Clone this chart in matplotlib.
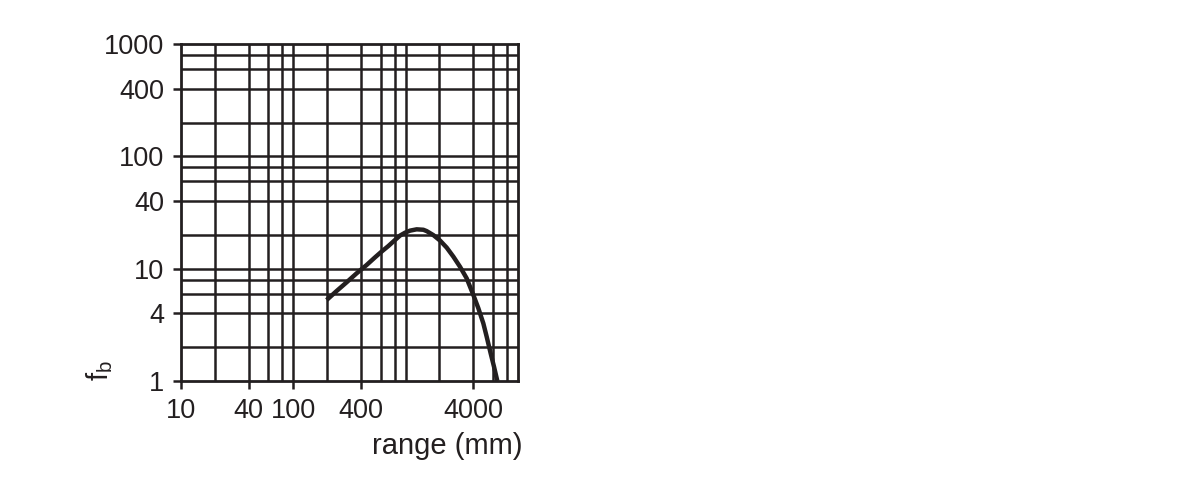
import matplotlib.pyplot as plt
from matplotlib.ticker import FixedLocator, NullFormatter, FixedFormatter

plt.rcParams['font.family'] = ['Liberation Sans', 'DejaVu Sans']
plt.rcParams['mathtext.default'] = 'regular'

ink = '#231f20'

# curve (range in mm, f_b)
range_mm = [198, 243, 298, 366, 450, 533, 611, 701, 804, 890, 987, 1093, 1253, 1437,
            1538, 1763, 2022, 2318, 2657, 3046, 3493, 4004, 4437, 4913, 5262, 5712, 6116, 6549]
fb = [5.26, 6.33, 7.56, 9.09, 10.8, 12.6, 14.2, 15.9, 18.0, 19.7, 20.9, 21.8, 22.4, 22.2,
      21.6, 19.9, 17.8, 15.4, 12.8, 10.4, 8.2, 5.83, 4.44, 3.26, 2.48, 1.76, 1.34, 1.0]

# axis ticks and grid
x_ticks = [10, 40, 100, 400, 4000]
y_ticks = [1, 4, 10, 40, 100, 400, 1000]
x_grid = [20, 40, 60, 80, 100, 200, 400, 600, 800, 1000, 2000, 4000, 6000, 8000]
y_grid = [2, 4, 6, 8, 10, 20, 40, 60, 80, 100, 200, 400, 600, 800]

fig = plt.figure(figsize=(11.99, 4.96), dpi=100)
ax = fig.add_axes([181 / 1199, 1 - 381 / 496, 337 / 1199, 337 / 496])

ax.set_xscale('log')
ax.set_yscale('log')
ax.set_xlim(10, 10000)
ax.set_ylim(1, 1000)

# keep grid lines that sit on labelled ticks
ax.xaxis.remove_overlapping_locs = False
ax.yaxis.remove_overlapping_locs = False
ax.xaxis.set_major_locator(FixedLocator(x_ticks))
ax.xaxis.set_major_formatter(FixedFormatter([str(v) for v in x_ticks]))
ax.yaxis.set_major_locator(FixedLocator(y_ticks))
ax.yaxis.set_major_formatter(FixedFormatter([str(v) for v in y_ticks]))
ax.xaxis.set_minor_locator(FixedLocator(x_grid))
ax.yaxis.set_minor_locator(FixedLocator(y_grid))
ax.xaxis.set_minor_formatter(NullFormatter())
ax.yaxis.set_minor_formatter(NullFormatter())

ax.grid(which='minor', color=ink, linewidth=1.8)
ax.tick_params(which='minor', length=0)
ax.tick_params(which='major', length=6, width=1.8, color=ink, labelcolor=ink,
               labelsize=19.5, pad=6)
for s in ax.spines.values():
    s.set_color(ink)
    s.set_linewidth(2)

ax.plot(range_mm, fb, color=ink, linewidth=3.2, solid_capstyle='butt')

ax.set_xlabel('range (mm)', loc='right', fontsize=21, color=ink, labelpad=6)
ax.xaxis.label.set_x(1.012)
ax.set_ylabel('f$_b$', loc='bottom', fontsize=21, color=ink, labelpad=-8)

fig.savefig('out.png', dpi=100)
